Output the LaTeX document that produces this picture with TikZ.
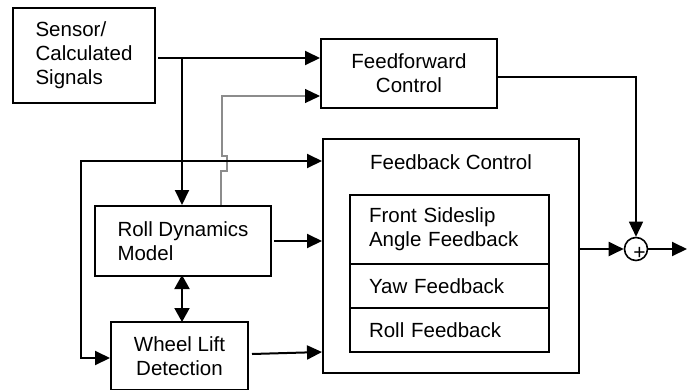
\documentclass[tikz,border=0pt]{standalone}
\usepackage{fontspec}
\setmainfont{Liberation Sans}
\usetikzlibrary{arrows.meta}
\begin{document}
\begin{tikzpicture}[x=1pt,y=-1pt,
  blk/.style={draw, line width=2pt, rectangle, inner sep=0pt,
    font=\fontsize{20.5}{24}\selectfont},
  lbl/.style={inner sep=0pt, font=\fontsize{20.5}{24}\selectfont},
  tip/.style={-{Triangle[length=15pt,width=14pt]}},
  wire/.style={line width=2pt, tip},
  thinwire/.style={line width=1.5pt, tip},
  grayline/.style={line width=1.2pt, black!45,
    -{Triangle[length=15pt,width=14pt,fill=black,color=black]}}]
\useasboundingbox (0,0) rectangle (691,389);

% blocks
\node[blk, minimum width=142pt, minimum height=95pt, align=left]
  (sensor) at (84,55.5) {Sensor/\\Calculated\\Signals};
\node[blk, minimum width=176pt, minimum height=69pt, align=center]
  (ff) at (409,73.5) {Feedforward\\Control};
\node[blk, minimum width=256pt, minimum height=234pt] (fb) at (451,256) {};
\node[lbl] (fbtitle) at (451,162) {Feedback Control};
\node[blk, minimum width=199pt, minimum height=69pt, text width=161pt, align=left]
  (front) at (449.5,229.5) {Front Sideslip\\Angle Feedback};
\node[blk, minimum width=199pt, minimum height=44pt, text width=161pt, align=left]
  (yaw) at (449.5,286) {Yaw Feedback};
\node[blk, minimum width=199pt, minimum height=44pt, text width=161pt, align=left]
  (roll) at (449.5,330) {Roll Feedback};
\node[blk, minimum width=176pt, minimum height=70pt, align=left]
  (rdm) at (183,241) {Roll Dynamics\\Model};
\node[blk, minimum width=137pt, minimum height=68pt, align=center]
  (wld) at (179.5,356) {Wheel Lift\\Detection};

% summing junction
\node[draw, circle, line width=1.6pt, minimum size=23pt, inner sep=0pt]
  (sum) at (636,249) {};
\node[inner sep=0pt, font=\fontsize{21}{21}\selectfont] (plus) at (639.5,253) {+};
\coordinate (out) at (687,249);

% signal distribution
\coordinate (j1) at (182,58);
\draw[wire] ([xshift=2pt]sensor.east |- j1) -- (ff.west |- j1);
\draw[wire] (j1) -- (j1 |- rdm.north);

% roll model output to feedforward (with a hop over the loop line)
\draw[grayline] (221,0 |- rdm.north) -- (221,171) -- (227,171) -- (227,156)
  -- (222,156) -- (222,96) -- (ff.west |- 0,96);

% loop line feeding feedback control and wheel lift detection
\coordinate (lp) at (81,161);
\draw[line width=2pt, {Triangle[length=15pt,width=14pt]}-{Triangle[length=15pt,width=14pt]}]
  (fb.west |- lp) -- (lp) -- (81,358) -- (wld.west |- 0,358);

% block outputs into feedback control
\draw[wire] ([xshift=2pt]rdm.east) -- (rdm.east -| fb.west);
\draw[line width=2pt, {Triangle[length=14pt,width=15pt]}-{Triangle[length=14pt,width=15pt]}]
  ([yshift=2pt]rdm.south -| j1) -- ([yshift=-1pt]wld.north -| j1);
\draw[wire] ([xshift=3pt]wld.east |- 0,354) -- (fb.west |- 0,352);

% outputs to the summing junction
\draw[thinwire] (ff.east |- 0,77) -- (636,77) -- (sum.north);
\draw[wire] (fb.east |- sum) -- (sum.west);
\draw[wire] (sum.east) -- (out);
\end{tikzpicture}
\end{document}
